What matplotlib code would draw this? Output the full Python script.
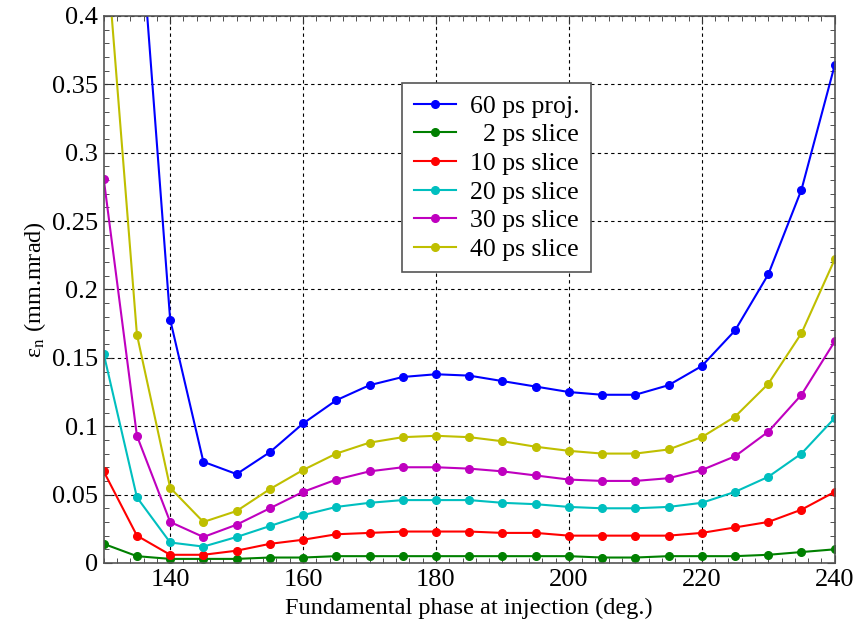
#!/usr/bin/env python3
"""Emittance vs. fundamental phase at injection, for several slice lengths."""

import matplotlib
matplotlib.use('Agg')
import matplotlib.pyplot as plt
from matplotlib.ticker import MultipleLocator

# phase points (deg.)
phase = [130, 135, 140, 145, 150, 155, 160, 165, 170, 175, 180, 185,
         190, 195, 200, 205, 210, 215, 220, 225, 230, 235, 240]

# normalized emittance (mm.mrad)
proj_60 = [0.90, 0.50, 0.178, 0.074, 0.065, 0.081, 0.102, 0.119, 0.130, 0.136, 0.138, 0.137,
           0.133, 0.129, 0.125, 0.123, 0.123, 0.130, 0.144, 0.170, 0.211, 0.273, 0.364]
slice_2 = [0.014, 0.005, 0.003, 0.003, 0.003, 0.004, 0.004, 0.005, 0.005, 0.005, 0.005, 0.005,
           0.005, 0.005, 0.005, 0.004, 0.004, 0.005, 0.005, 0.005, 0.006, 0.008, 0.010]
slice_10 = [0.067, 0.020, 0.006, 0.006, 0.009, 0.014, 0.017, 0.021, 0.022, 0.023, 0.023, 0.023,
            0.022, 0.022, 0.020, 0.020, 0.020, 0.020, 0.022, 0.026, 0.030, 0.039, 0.052]
slice_20 = [0.153, 0.048, 0.015, 0.012, 0.019, 0.027, 0.035, 0.041, 0.044, 0.046, 0.046, 0.046,
            0.044, 0.043, 0.041, 0.040, 0.040, 0.041, 0.044, 0.052, 0.063, 0.080, 0.106]
slice_30 = [0.281, 0.093, 0.030, 0.019, 0.028, 0.040, 0.052, 0.061, 0.067, 0.070, 0.070, 0.069,
            0.067, 0.064, 0.061, 0.060, 0.060, 0.062, 0.068, 0.078, 0.096, 0.123, 0.162]
slice_40 = [0.474, 0.167, 0.055, 0.030, 0.038, 0.054, 0.068, 0.080, 0.088, 0.092, 0.093, 0.092,
            0.089, 0.085, 0.082, 0.080, 0.080, 0.083, 0.092, 0.107, 0.131, 0.168, 0.222]

labels = ['60 ps proj.', '  2 ps slice', '10 ps slice', '20 ps slice', '30 ps slice', '40 ps slice']
series = [proj_60, slice_2, slice_10, slice_20, slice_30, slice_40]
colors = ['#0000ff', '#008000', '#ff0000', '#00bfbf', '#bf00bf', '#bfbf00']

plt.rcParams['font.family'] = ['Liberation Serif', 'DejaVu Serif']
plt.rcParams['mathtext.fontset'] = 'stix'

fig = plt.figure(figsize=(8.57, 6.21), dpi=100)
ax = fig.add_axes([0.121, 0.0934, 0.853, 0.881])

for values, label, color in zip(series, labels, colors):
    ax.plot(phase, values, color=color, linewidth=1.5, marker='o',
            markersize=5.5, label=label)

ax.set_xlim(130, 240)
ax.set_ylim(0, 0.4)
ax.xaxis.set_major_locator(MultipleLocator(20))
ax.xaxis.set_minor_locator(MultipleLocator(2))
ax.yaxis.set_major_locator(MultipleLocator(0.05))
ax.yaxis.set_minor_locator(MultipleLocator(0.01))
ax.yaxis.set_major_formatter(plt.FuncFormatter(lambda v, p: ('%.2f' % v).rstrip('0').rstrip('.')))

ax.tick_params(which='both', direction='in', top=True, right=True, labelsize=19, colors='#333333')
ax.tick_params(which='major', length=6, labelcolor='black', pad=4)
ax.tick_params(which='minor', length=3.5)
for sp in ax.spines.values():
    sp.set_color('#555555')
    sp.set_linewidth(1.2)

ax.grid(True, which='major', color='black', linestyle=(0, (3, 3)), linewidth=0.8)

ax.set_xlabel('Fundamental phase at injection (deg.)', fontsize=17.5, labelpad=5)
ax.set_ylabel(r'ε$_{\rm n}$ (mm.mrad)', fontsize=17.5, labelpad=3)

leg = ax.legend(loc='upper left', bbox_to_anchor=(0.408, 0.877), borderaxespad=0,
                fontsize=18.5, fancybox=False, framealpha=1, edgecolor='#555555',
                handlelength=1.65, handletextpad=0.55, labelspacing=0.22, borderpad=0.45)
leg.get_frame().set_linewidth(1.2)

fig.savefig('out.png', dpi=100)
